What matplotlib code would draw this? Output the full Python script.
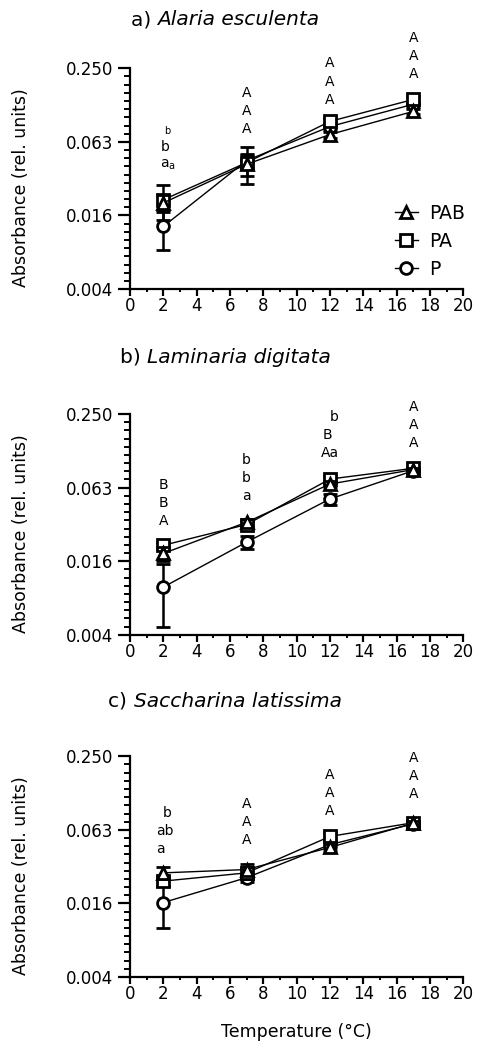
import numpy as np
import matplotlib
matplotlib.use('Agg')
import matplotlib.pyplot as plt
from matplotlib.ticker import FixedLocator, NullFormatter
from matplotlib.lines import Line2D

plt.rcParams['font.family'] = ['DejaVu Sans']
plt.rcParams['mathtext.fontset'] = 'dejavusans'

temps = [2, 7, 12, 17]
series_names = ['PAB', 'PA', 'P']

# a) Alaria esculenta
pab_a = [0.0198, 0.0410, 0.0718, 0.111]
pab_a_sd = [0.003, 0.008, 0.004, 0.006]
pa_a = [0.0210, 0.0423, 0.0919, 0.139]
pa_a_sd = [0.0066, 0.014, 0.006, 0.008]
p_a = [0.0127, 0.0440, 0.0834, 0.127]
p_a_sd = [0.0046, 0.006, 0.005, 0.006]

# b) Laminaria digitata
pab_b = [0.0181, 0.0326, 0.0669, 0.0878]
pab_b_sd = [0.0025, 0.002, 0.004, 0.003]
pa_b = [0.0211, 0.0312, 0.0735, 0.0900]
pa_b_sd = [0.0013, 0.002, 0.005, 0.003]
p_b = [0.0096, 0.0224, 0.0505, 0.0860]
p_b_sd = [0.0051, 0.0028, 0.005, 0.003]

# c) Saccharina latissima
pab_c = [0.0278, 0.0296, 0.0449, 0.0708]
pab_c_sd = [0.003, 0.003, 0.003, 0.003]
pa_c = [0.0238, 0.0278, 0.0552, 0.0715]
pa_c_sd = [0.002, 0.003, 0.004, 0.003]
p_c = [0.0159, 0.0254, 0.0473, 0.0700]
p_c_sd = [0.006, 0.002, 0.003, 0.003]

# significance letters, top to bottom, for each temperature ('~' = small letter)
letters_a = [['~b', 'b', r'a$_{\mathregular{a}}$'], ['A', 'A', 'A'], ['A', 'A', 'A'], ['A', 'A', 'A']]
letters_b = [['B', 'B', 'A'], ['b', 'b', 'a'], ['b', 'B', 'Aa'], ['A', 'A', 'A']]
letters_c = [['b', 'ab', 'a'], ['A', 'A', 'A'], ['A', 'A', 'A'], ['A', 'A', 'A']]
# log2 height of the lowest letter in each stack
letter_base_a = [-4.62, -3.64, -2.85, -2.16]
letter_base_b = [-4.91, -4.22, -3.05, -2.78]
letter_base_c = [-4.52, -4.27, -3.49, -3.03]
# small sideways shifts (points) of letters
shift_a = [[3, 1, 3], [0, 0, 0], [0, 0, 0], [0, 0, 0]]
shift_b = [[0, 0, 0], [0, 0, 0], [3, -2, 0], [0, 0, 0]]
shift_c = [[3, 1, -2], [0, 0, 0], [0, 0, 0], [0, 0, 0]]

titles = ['a) ', 'b) ', 'c) ']
species = ['Alaria esculenta', 'Laminaria digitata', 'Saccharina latissima']

W, H = 478, 1051
fig = plt.figure(figsize=(W / 100, H / 100), dpi=100)
bottoms = [0.725, 0.396, 0.0704]
axes = [fig.add_axes([0.272, b, 0.697, 0.210]) for b in bottoms]

data = [
    [(pab_a, pab_a_sd), (pa_a, pa_a_sd), (p_a, p_a_sd)],
    [(pab_b, pab_b_sd), (pa_b, pa_b_sd), (p_b, p_b_sd)],
    [(pab_c, pab_c_sd), (pa_c, pa_c_sd), (p_c, p_c_sd)],
]
letters = [letters_a, letters_b, letters_c]
bases = [letter_base_a, letter_base_b, letter_base_c]
shifts = [shift_a, shift_b, shift_c]
markers = ['^', 's', 'o']
title_y = [0.981, 0.660, 0.333]
title_parts = []

for k, ax in enumerate(axes):
    # draw P first, then PA, then PAB on top
    for j in [2, 1, 0]:
        vals, sd = data[k][j]
        ax.errorbar(temps, vals, yerr=sd, color='black', lw=1.0,
                    marker=markers[j], ms=8.5, mfc='white', mec='black',
                    mew=2.0, elinewidth=1.8, capsize=4.7, capthick=1.8,
                    zorder=3 + (2 - j))

    ax.set_yscale('log', base=2)
    ax.set_ylim(2 ** -8, 2 ** -2)
    ax.set_xlim(0, 20)
    ax.set_yticks([2 ** -8, 2 ** -6, 2 ** -4, 2 ** -2])
    ax.set_yticklabels(['0.004', '0.016', '0.063', '0.250'])
    minor = [2 ** (-8 + i * 2 / 9) for i in range(28) if i % 9 != 0]
    ax.yaxis.set_minor_locator(FixedLocator(minor))
    ax.yaxis.set_minor_formatter(NullFormatter())
    ax.set_xticks(range(0, 21, 2))
    ax.xaxis.set_minor_locator(FixedLocator(range(1, 20, 2)))

    for s in ['top', 'right']:
        ax.spines[s].set_visible(False)
    for s in ['left', 'bottom']:
        ax.spines[s].set_linewidth(1.6)
    ax.tick_params(which='major', width=1.6, labelsize=12)
    ax.tick_params(axis='y', which='major', length=9, pad=3)
    ax.tick_params(axis='x', which='major', length=5, pad=1)
    ax.tick_params(axis='y', which='minor', length=4.5, width=1.4)
    ax.tick_params(axis='x', which='minor', length=2.5, width=1.4)

    ax.set_ylabel('Absorbance (rel. units)', fontsize=12.5)
    ax.yaxis.set_label_coords(-0.30, 0.46)

    t1 = fig.text(0, title_y[k], titles[k], ha='left', va='center', fontsize=14.5)
    t2 = fig.text(0, title_y[k], species[k], ha='left', va='center', fontsize=14.5, style='italic')
    title_parts.append((t1, t2))

    # letters
    for t, stack, base, sh in zip(temps, letters[k], bases[k], shifts[k]):
        n = len(stack)
        for i, txt in enumerate(stack):
            size = 10
            dy = (n - 1 - i) * 13
            if txt.startswith('~'):
                txt = txt[1:]
                size = 7
                dy -= 1.5
            ax.annotate(txt, (t, 2 ** base), xytext=(sh[i], dy),
                        textcoords='offset points', ha='center', va='center',
                        fontsize=size, annotation_clip=False)

    if k == 0:
        handles = [Line2D([], [], color='black', lw=1.0, marker=markers[j], ms=8.5,
                          mfc='white', mec='black', mew=2.0, label=series_names[j])
                   for j in range(3)]
        ax.legend(handles=handles, loc='upper left', bbox_to_anchor=(0.794, 0.386),
                  frameon=False, fontsize=13.5, handlelength=1.25, handletextpad=0.62,
                  labelspacing=0.48, borderpad=0, borderaxespad=0)

axes[2].set_xlabel('Temperature (°C)', fontsize=12.5, labelpad=14)

# centre each two-part title around x = 225 px
fig.canvas.draw()
r = fig.canvas.get_renderer()
for t1, t2 in title_parts:
    w1 = t1.get_window_extent(r).width
    w2 = t2.get_window_extent(r).width
    start = 225 - (w1 + w2) / 2
    t1.set_x(start / W)
    t2.set_x((start + w1) / W)

fig.savefig('out.png', dpi=100)
